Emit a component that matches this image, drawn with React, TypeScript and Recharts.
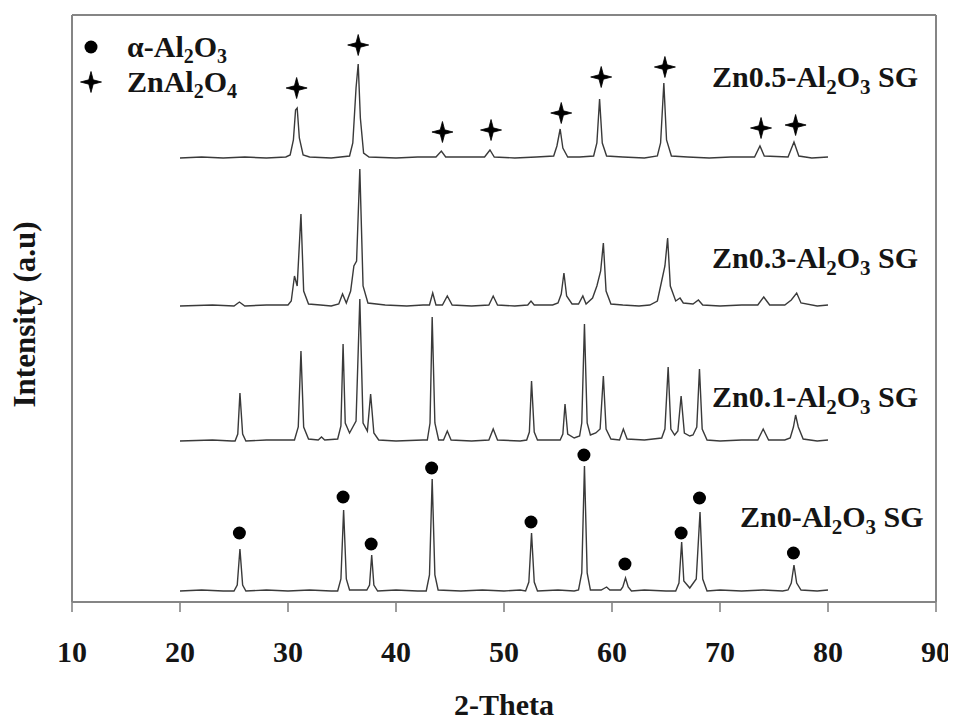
import React from 'react';
import { ComposedChart, Line, Scatter, XAxis, YAxis, ReferenceLine, Legend } from 'recharts';

const FONT = '"Liberation Serif", "Times New Roman", Times, serif';
const INK = '#151515';
const FRAME = '#858585';
const TRACE = '#3a3a3a';

// 2-Theta axis
const xTicks = [10, 20, 30, 40, 50, 60, 70, 80, 90];
const xDomain = [10, 90];
const yDomain = [0, 587];

// vertical offsets of the stacked patterns (a.u.)
const offsetZn0 = 11;
const offsetZn01 = 161;
const offsetZn03 = 296;
const offsetZn05 = 444;

// Pattern points: [2-theta, intensity above own baseline]
const zn0Pattern: number[][] = [
  [20, 0], [22, 1], [24, 0],
  [25.0, 0], [25.3, 6], [25.55, 42], [25.8, 6], [26.1, 0],
  [28, 1], [30, 0], [32, 1], [34, 0],
  [34.6, 0], [34.9, 12], [35.15, 81], [35.4, 12], [35.7, 1],
  [37.3, 1], [37.55, 6], [37.75, 36], [37.95, 6], [38.3, 0],
  [40, 1], [42, 0],
  [42.8, 0], [43.1, 16], [43.35, 112], [43.6, 16], [43.9, 1],
  [46, 0], [48, 1], [50, 0], [51.5, 1],
  [52.0, 0], [52.3, 9], [52.55, 58], [52.8, 9], [53.1, 0],
  [55, 1], [56.5, 0],
  [56.9, 1], [57.2, 18], [57.45, 125], [57.7, 18], [58.0, 1],
  [59, 1], [59.5, 4], [59.8, 1],
  [60.8, 1], [61.0, 4], [61.25, 13], [61.5, 4], [61.8, 0],
  [63, 1], [65, 0],
  [65.9, 0], [66.2, 8], [66.45, 49], [66.65, 10], [67.2, 3],
  [67.8, 12], [68.15, 79], [68.4, 12], [68.8, 0],
  [70, 1], [72, 0], [74, 1], [75.8, 0],
  [76.3, 1], [76.6, 8], [76.85, 26], [77.1, 8], [77.5, 1],
  [79, 0], [80, 1],
];

const zn01Pattern: number[][] = [
  [20, 0], [23, 1], [24.8, 0],
  [25.1, 0], [25.35, 7], [25.55, 48], [25.8, 7], [26.1, 0],
  [28, 1], [30.2, 1],
  [30.6, 1], [30.95, 14], [31.2, 90], [31.45, 14], [31.9, 2],
  [32.8, 1], [33.1, 4], [33.4, 1],
  [34.6, 2], [34.9, 15], [35.1, 97], [35.3, 18], [35.7, 8],
  [36.3, 20], [36.65, 142], [36.95, 18], [37.35, 10], [37.65, 47], [37.95, 8], [38.4, 1],
  [40, 0], [42.5, 1],
  [42.9, 1], [43.15, 18], [43.35, 124], [43.6, 18], [43.95, 1],
  [44.4, 1], [44.75, 10], [45.1, 1],
  [47, 0], [48.6, 1], [49.0, 12], [49.4, 1],
  [51.5, 0],
  [52.1, 1], [52.35, 9], [52.55, 60], [52.8, 9], [53.1, 1],
  [54.8, 1],
  [55.2, 1], [55.45, 7], [55.65, 37], [55.9, 7], [56.5, 3],
  [57.0, 5], [57.2, 18], [57.45, 117], [57.7, 18], [58.0, 6], [58.5, 8],
  [58.9, 12], [59.2, 65], [59.45, 12], [59.9, 2],
  [60.7, 1], [61.05, 12], [61.4, 2],
  [63, 1], [64.6, 3],
  [64.9, 12], [65.2, 74], [65.45, 12], [65.8, 6],
  [66.1, 10], [66.4, 45], [66.7, 8], [67.2, 5], [67.5, 6],
  [67.85, 14], [68.1, 72], [68.35, 12], [68.8, 1],
  [70, 0], [72, 1], [73.5, 1], [74.0, 12], [74.5, 1],
  [76, 1],
  [76.5, 3], [76.8, 14], [77.0, 26], [77.25, 14], [77.7, 2],
  [79, 0], [80, 1],
];

const zn03Pattern: number[][] = [
  [20, 0], [23, 1], [25, 0], [25.5, 4], [26, 0], [28, 1], [30, 1],
  [30.3, 5], [30.6, 30], [30.85, 20], [31.2, 92], [31.45, 15], [31.9, 2],
  [33, 1], [34, 0], [34.7, 2], [35.05, 12], [35.4, 3],
  [35.8, 15], [36.1, 40], [36.35, 45], [36.65, 137], [36.95, 20], [37.4, 3],
  [39, 1], [41, 0], [42.5, 1],
  [43.1, 1], [43.4, 13], [43.7, 1],
  [44.3, 1], [44.75, 10], [45.2, 1],
  [47, 0], [48.6, 1], [49.0, 10], [49.4, 1],
  [51, 0], [52.2, 1], [52.5, 5], [52.8, 1],
  [54.5, 1], [55.0, 3], [55.3, 12], [55.55, 33], [55.8, 10], [56.3, 2],
  [56.9, 2], [57.3, 10], [57.6, 2],
  [58.2, 8], [58.6, 20], [58.95, 35], [59.2, 63], [59.45, 15], [59.9, 2],
  [61, 1], [62.5, 0], [63.5, 1],
  [64.2, 5], [64.6, 25], [64.9, 40], [65.15, 68], [65.4, 20], [65.9, 5], [66.3, 8], [66.6, 3],
  [67.5, 2], [68.0, 6], [68.4, 1],
  [70, 0], [72, 1], [73.5, 1], [74.05, 9], [74.6, 1],
  [76, 1], [76.6, 6], [77.1, 13], [77.5, 3],
  [79, 0], [80, 1],
];

const zn05Pattern: number[][] = [
  [20, 0], [22, 1], [24, 0], [26, 1], [28, 0], [29.8, 1],
  [30.2, 3], [30.5, 18], [30.7, 48], [30.85, 50], [31.05, 20], [31.4, 3], [32, 1],
  [34, 0], [35.7, 2],
  [36.0, 15], [36.3, 70], [36.5, 94], [36.7, 40], [37.0, 5], [37.5, 1],
  [40, 0], [42, 1], [43.7, 1], [44.2, 7], [44.6, 1],
  [46, 1], [48.2, 1], [48.7, 8], [49.1, 1],
  [51, 0], [53, 1], [54.6, 2], [54.9, 12], [55.2, 29], [55.45, 10], [55.9, 1],
  [57, 1], [58.3, 2], [58.6, 15], [58.85, 59], [59.1, 15], [59.5, 2],
  [61, 1], [63, 0], [64.2, 2], [64.5, 15], [64.8, 75], [65.05, 18], [65.5, 2],
  [67, 1], [69, 0], [71, 1], [73.2, 1], [73.7, 12], [74.1, 2],
  [76.3, 1], [76.85, 16], [77.3, 2],
  [78.5, 0], [80, 1],
];

// Phase markers: [2-theta, marker height (a.u.)]
const alphaAl2O3Marks: number[][] = [
  [25.5, 69], [35.1, 105], [37.7, 58], [43.3, 134], [52.5, 80],
  [57.4, 147], [61.2, 38], [66.4, 69], [68.1, 104], [76.8, 49],
];
const znAl2O4Marks: number[][] = [
  [30.8, 514], [36.5, 557], [44.3, 470], [48.8, 472], [55.3, 489],
  [59.0, 525], [64.9, 535], [73.8, 474], [77.0, 477],
];

// Sample labels: zn content, 2-theta of label start, label baseline (a.u.)
const sampleZn = ['0.5', '0.3', '0.1', '0'];
const labelX = [69.26, 69.26, 69.26, 71.85];
const labelY = [515, 334, 195, 75];

const toPoints = (arr: number[][], off: number) => arr.map(([x, y]) => ({ x, y: y + off }));
const zn0Data = toPoints(zn0Pattern, offsetZn0);
const zn01Data = toPoints(zn01Pattern, offsetZn01);
const zn03Data = toPoints(zn03Pattern, offsetZn03);
const zn05Data = toPoints(zn05Pattern, offsetZn05);
const dotData = toPoints(alphaAl2O3Marks, 0);
const crossData = toPoints(znAl2O4Marks, 0);
const labelData = sampleZn.map((z, i) => ({ x: labelX[i], y: labelY[i], zn: z }));

const crossPath = (cx: number, cy: number, s = 10.5, t = 2.2) =>
  `M${cx - s},${cy} L${cx - t},${cy - t} L${cx},${cy - s} L${cx + t},${cy - t} L${cx + s},${cy} L${cx + t},${cy + t} L${cx},${cy + s} L${cx - t},${cy + t} Z`;

const DotShape = (p: any) => <circle cx={p.cx} cy={p.cy} r={6.5} fill="#000" />;
const CrossShape = (p: any) => <path d={crossPath(p.cx, p.cy)} fill="#000" stroke="#000" strokeWidth={0.8} strokeLinejoin="round" />;

const LabelShape = (p: any) => {
  const zn = p.payload?.zn ?? '';
  return (
    <text x={p.cx} y={p.cy} fontFamily={FONT} fontWeight="bold" fontSize={30} fill={INK}>
      {`Zn${zn}-Al`}
      <tspan dy={7} fontSize={21}>2</tspan>
      <tspan dy={-7}>O</tspan>
      <tspan dy={7} fontSize={21}>3</tspan>
      <tspan dy={-7}> SG</tspan>
    </text>
  );
};

const XTick = (p: any) => (
  <text x={p.x} y={p.y + 48} textAnchor="middle" fontFamily={FONT} fontWeight="bold" fontSize={30} fill={INK}>
    {p.payload.value}
  </text>
);

const XLabel = (p: any) => {
  const vb = p.viewBox || {};
  return (
    <text x={vb.x + vb.width / 2} y={707} textAnchor="middle" fontFamily={FONT} fontWeight="bold" fontSize={30} fill={INK}>
      2-Theta
    </text>
  );
};

const YLabel = (p: any) => {
  const vb = p.viewBox || {};
  const cy = (vb.y ?? 7) + (vb.height ?? 587) / 2;
  return (
    <text x={0} y={0} transform={`translate(27,${cy + 6}) rotate(-90)`} textAnchor="middle" fontFamily={FONT} fontWeight="bold" fontSize={31} fill={INK}>
      Intensity (a.u)
    </text>
  );
};

const rowText: React.CSSProperties = { marginLeft: 24, lineHeight: '26px', display: 'inline-block', height: 26 };
const sub: React.CSSProperties = { fontSize: 20, position: 'relative', top: 6, lineHeight: '14px', display: 'inline-block' };

const LegendBox = () => (
  <div style={{ fontFamily: FONT, fontWeight: 'bold', fontSize: 30, color: INK }}>
    <div style={{ display: 'flex', alignItems: 'center', height: 35 }}>
      <svg width={24} height={30}><circle cx={12} cy={15} r={6.5} fill="#000" /></svg>
      <span style={rowText}>α-Al<span style={sub}>2</span>O<span style={sub}>3</span></span>
    </div>
    <div style={{ display: 'flex', alignItems: 'center', height: 35 }}>
      <svg width={24} height={30}><path d={crossPath(12, 15)} fill="#000" stroke="#000" strokeWidth={0.8} /></svg>
      <span style={rowText}>ZnAl<span style={sub}>2</span>O<span style={sub}>4</span></span>
    </div>
  </div>
);

export default function App() {
  return (
    <ComposedChart width={948} height={714} margin={{ top: 7, right: 20, left: 0, bottom: 10 }}>
      <XAxis
        type="number"
        dataKey="x"
        domain={xDomain}
        ticks={xTicks}
        interval={0}
        allowDataOverflow
        height={110}
        tickSize={10}
        axisLine={{ stroke: FRAME, strokeWidth: 2 }}
        tickLine={{ stroke: FRAME, strokeWidth: 1.6 }}
        tick={<XTick />}
        label={{ content: (p: any) => <XLabel {...p} /> }}
      />
      <YAxis
        type="number"
        dataKey="y"
        domain={yDomain}
        allowDataOverflow
        width={64}
        tick={false}
        tickLine={false}
        axisLine={{ stroke: FRAME, strokeWidth: 2 }}
        label={{ content: (p: any) => <YLabel {...p} /> }}
      />
      <ReferenceLine y={587} stroke={FRAME} strokeWidth={2} />
      <ReferenceLine x={90} stroke={FRAME} strokeWidth={2} />
      <Legend
        layout="vertical"
        align="center"
        verticalAlign="middle"
        content={() => <LegendBox />}
        wrapperStyle={{ left: 71, top: 21, width: 'auto', height: 'auto' }}
      />
      <Line data={zn0Data} dataKey="y" type="linear" stroke={TRACE} strokeWidth={1.4} dot={false} isAnimationActive={false} legendType="none" />
      <Line data={zn01Data} dataKey="y" type="linear" stroke={TRACE} strokeWidth={1.4} dot={false} isAnimationActive={false} legendType="none" />
      <Line data={zn03Data} dataKey="y" type="linear" stroke={TRACE} strokeWidth={1.4} dot={false} isAnimationActive={false} legendType="none" />
      <Line data={zn05Data} dataKey="y" type="linear" stroke={TRACE} strokeWidth={1.4} dot={false} isAnimationActive={false} legendType="none" />
      <Scatter data={dotData} dataKey="y" shape={DotShape} isAnimationActive={false} legendType="none" />
      <Scatter data={crossData} dataKey="y" shape={CrossShape} isAnimationActive={false} legendType="none" />
      <Scatter data={labelData} dataKey="y" shape={LabelShape} isAnimationActive={false} legendType="none" />
    </ComposedChart>
  );
}
